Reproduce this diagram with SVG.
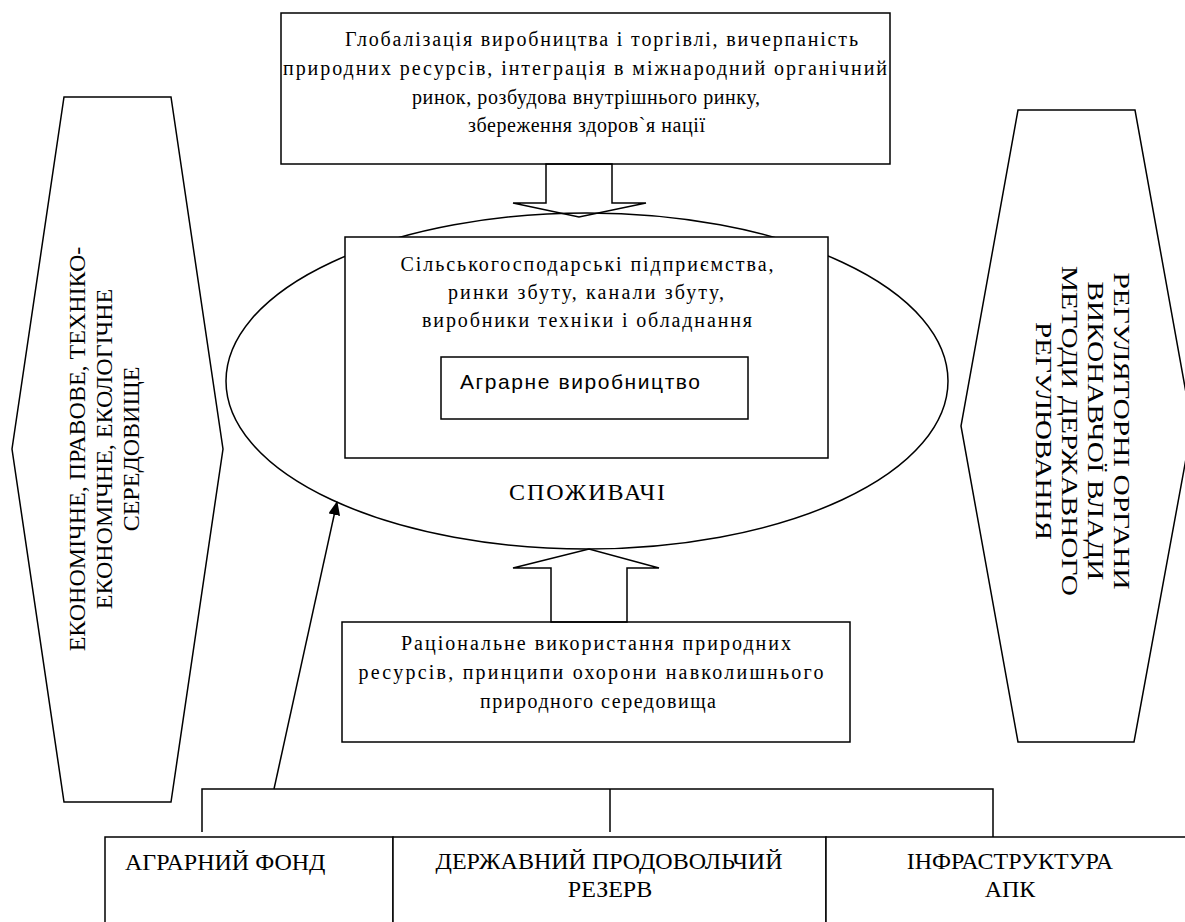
<svg xmlns="http://www.w3.org/2000/svg" width="1185" height="922" viewBox="0 0 1185 922">
<style>
.ln{fill:none;stroke:#000;stroke-width:1.5}
.bx{fill:#fff;stroke:#000;stroke-width:1.5}
.t{font-family:"Liberation Serif","Times New Roman",serif;font-size:20px;fill:#000}
.c{font-family:"Liberation Serif","Times New Roman",serif;font-size:24px;fill:#000}
.tv{font-family:"Liberation Serif","Times New Roman",serif;font-size:24px;fill:#000;text-anchor:middle}
.s{font-family:"Liberation Sans",Arial,sans-serif;font-size:21px;fill:#000}
.m{text-anchor:middle}
</style>
<defs>
<marker id="ah" markerWidth="14" markerHeight="12" refX="13" refY="6" orient="auto" markerUnits="userSpaceOnUse">
<path d="M0,0 L14,6 L0,12 Z" fill="#000"/>
</marker>
</defs>
<rect width="1185" height="922" fill="#fff"/>

<g id="left-env">
<polygon class="ln" points="64,97 171,97 223,449 171,802 64,802 12,449"/>
<text class="tv" transform="translate(85,449) rotate(-90)">ЕКОНОМІЧНЕ, ПРАВОВЕ, ТЕХНІКО-</text>
<text class="tv" transform="translate(112,449) rotate(-90)">ЕКОНОМІЧНЕ, ЕКОЛОГІЧНЕ</text>
<text class="tv" transform="translate(139,449) rotate(-90)">СЕРЕДОВИЩЕ</text>
</g>

<g id="right-env">
<polygon class="ln" points="1018,110 1135,110 1192,426 1134,742 1018,742 961,426"/>
<text class="tv" transform="translate(1114,431) rotate(90)" textLength="317" lengthAdjust="spacingAndGlyphs">РЕГУЛЯТОРНІ ОРГАНИ</text>
<text class="tv" transform="translate(1088,431) rotate(90)" textLength="299" lengthAdjust="spacingAndGlyphs">ВИКОНАВЧОЇ ВЛАДИ</text>
<text class="tv" transform="translate(1062,431) rotate(90)" textLength="330" lengthAdjust="spacingAndGlyphs">МЕТОДИ ДЕРЖАВНОГО</text>
<text class="tv" transform="translate(1036,431) rotate(90)" textLength="218" lengthAdjust="spacingAndGlyphs">РЕГУЛЮВАННЯ</text>
</g>

<g id="top-box">
<rect class="bx" x="281" y="13" width="609" height="151"/>
<text class="t" x="345" y="46" textLength="513" lengthAdjust="spacing">Глобалізація виробництва і торгівлі, вичерпаність</text>
<text class="t" x="283" y="75" textLength="604" lengthAdjust="spacing">природних ресурсів, інтеграція в міжнародний органічний</text>
<text class="t" x="412" y="104" textLength="348" lengthAdjust="spacing">ринок, розбудова внутрішнього ринку,</text>
<text class="t" x="468" y="132" textLength="237" lengthAdjust="spacing">збереження здоров`я нації</text>
</g>

<g id="consumers">
<ellipse class="ln" cx="587" cy="381" rx="361" ry="168"/>
<text class="c m" x="587" y="500" textLength="156" lengthAdjust="spacing">СПОЖИВАЧІ</text>
</g>

<g id="enterprises">
<rect class="bx" x="345" y="237" width="483" height="221"/>
<text class="t m" x="587" y="271" textLength="373" lengthAdjust="spacing">Сільськогосподарські підприємства,</text>
<text class="t m" x="586" y="299" textLength="276" lengthAdjust="spacing">ринки збуту, канали збуту,</text>
<text class="t m" x="587" y="327" textLength="330" lengthAdjust="spacing">виробники техніки і обладнання</text>
</g>

<g id="agro">
<rect class="bx" x="441" y="357" width="307" height="62"/>
<text class="s" x="460" y="389" textLength="240" lengthAdjust="spacing">Аграрне виробництво</text>
</g>

<g id="nature-box">
<rect class="bx" x="342" y="622" width="508" height="120"/>
<text class="t m" x="596" y="650" textLength="390" lengthAdjust="spacing">Раціональне використання  природних</text>
<text class="t m" x="591" y="679" textLength="465" lengthAdjust="spacing">ресурсів, принципи охорони навколишнього</text>
<text class="t m" x="598" y="708" textLength="236" lengthAdjust="spacing">природного середовища</text>
</g>

<g id="agro-fund">
<rect class="bx" x="105" y="837" width="288" height="100"/>
<text class="c" x="125" y="870">АГРАРНИЙ ФОНД</text>
</g>

<g id="food-reserve">
<rect class="bx" x="393" y="837" width="433" height="100"/>
<text class="c m" x="609" y="869">ДЕРЖАВНИЙ ПРОДОВОЛЬЧИЙ</text>
<text class="c m" x="610" y="897">РЕЗЕРВ</text>
</g>

<g id="infrastructure">
<rect class="bx" x="826" y="837" width="400" height="100"/>
<text class="c m" x="1010" y="869">ІНФРАСТРУКТУРА</text>
<text class="c m" x="1010" y="897">АПК</text>
</g>

<g id="connectors">
<polygon class="ln" points="546,164 546,203 513,203 579,217 646,203 612,203 612,164"/>
<polygon class="ln" points="551,622 551,568 513,568 589,549 659,568 627,568 627,622"/>
<line class="ln" x1="274" y1="789" x2="337" y2="502" marker-end="url(#ah)"/>
<polyline class="ln" points="202,832 202,789 993,789 993,837"/>
<line class="ln" x1="610" y1="789" x2="610" y2="832"/>
</g>
</svg>
